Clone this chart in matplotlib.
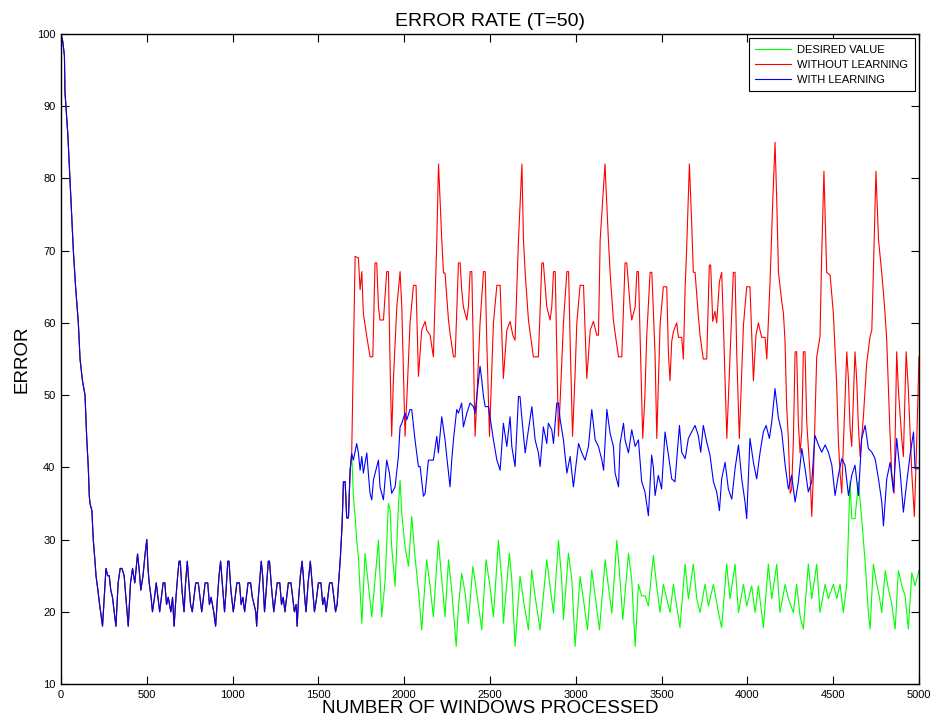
import matplotlib
matplotlib.use("Agg")
import matplotlib.pyplot as plt

plt.rcParams['font.family'] = ['Liberation Sans', 'DejaVu Sans']

# part where all three curves coincide (0 .. ~1690)
shared_x = [0, 10, 20, 23, 40, 52, 62, 72, 85, 101, 111, 125, 140, 150, 159, 165, 169, 180, 188, 198,
            204, 215, 225, 242, 252, 262, 272, 281, 290, 300, 320, 333, 345, 355, 368, 378, 392, 405,
            417, 430, 446, 455, 465, 478, 490, 500, 507, 514, 525, 533, 545, 555, 565, 575, 585, 595,
            605, 615, 625, 640, 650, 659, 670, 680, 688, 695, 705, 717, 726, 736, 745, 755, 765, 775,
            785, 800, 810, 820, 830, 840, 855, 865, 875, 890, 901, 912, 921, 930, 940, 953, 962, 972,
            979, 990, 1004, 1015, 1025, 1040, 1050, 1060, 1070, 1080, 1090, 1105, 1115, 1125, 1135,
            1140, 1150, 1160, 1167, 1175, 1186, 1196, 1208, 1215, 1228, 1240, 1250, 1260, 1275, 1285,
            1295, 1305, 1315, 1325, 1340, 1350, 1360, 1370, 1376, 1385, 1395, 1405, 1412, 1420, 1428,
            1440, 1453, 1460, 1470, 1477, 1490, 1500, 1515, 1525, 1535, 1545, 1555, 1565, 1580, 1590,
            1600, 1609, 1618, 1628, 1638, 1646, 1656, 1665, 1675, 1685, 1694]
shared_y = [100, 99, 97, 92, 86, 80, 75, 70, 65, 60, 55, 52, 50, 44, 40, 36, 35, 34, 30, 27,
            25, 23, 21, 18, 22, 26, 25, 25, 23, 22, 18, 24, 26, 26, 25, 22, 18, 24,
            26, 24, 28, 26, 23, 25, 28, 30, 26, 24, 22, 20, 22, 24, 22, 20, 22, 24,
            24, 21, 22, 20, 22, 18, 22, 25, 27, 27, 23, 20, 24, 27, 24, 21, 20, 22,
            24, 24, 22, 20, 22, 24, 24, 21, 22, 20, 18, 22, 25, 27, 24, 20, 23, 27,
            27, 23, 20, 22, 24, 24, 21, 22, 20, 22, 24, 24, 22, 21, 20,
            18, 22, 25, 27, 25, 20, 23, 27, 27, 23, 20, 22, 24, 24, 21,
            22, 20, 22, 24, 24, 22, 20, 21, 18, 22, 25, 27, 25, 22, 20,
            24, 27, 25, 22, 20, 22, 24, 24, 21, 22, 20, 22, 24, 24, 22,
            20, 21, 24, 27.5, 32, 38, 38, 33, 33, 39.6, 41.9]

desired_x = [1704, 1714, 1723, 1733, 1753, 1772, 1782, 1811, 1830, 1850, 1869, 1889, 1908, 1918, 1927,
             1947, 1966, 1976, 1986, 2005, 2025, 2044, 2063, 2083, 2102, 2131, 2151, 2170, 2199, 2219,
             2238, 2258, 2277, 2303, 2316, 2335, 2355, 2374, 2400, 2423, 2452, 2477, 2500, 2520, 2549,
             2569, 2578, 2613, 2627, 2646, 2675, 2695, 2724, 2743, 2763, 2792, 2831, 2850, 2870, 2899,
             2918, 2928, 2957, 2977, 2996, 3025, 3045, 3068, 3093, 3113, 3138, 3171, 3190, 3210, 3239,
             3258, 3274, 3307, 3326, 3346, 3365, 3384, 3404, 3423, 3452, 3471, 3491, 3510, 3530, 3549,
             3569, 3588, 3607, 3637, 3656, 3685, 3705, 3724, 3753, 3773, 3802, 3831, 3850, 3879, 3899,
             3928, 3948, 3977, 3996, 4025, 4045, 4064, 4093, 4122, 4142, 4171, 4190, 4220, 4239, 4268,
             4287, 4307, 4326, 4355, 4375, 4404, 4423, 4453, 4472, 4501, 4521, 4540, 4559, 4579, 4598,
             4608, 4627, 4647, 4666, 4686, 4705, 4715, 4734, 4754, 4768, 4783, 4803, 4822, 4841, 4861,
             4880, 4900, 4919, 4938, 4958, 4977, 5000]
desired_y = [36, 33.2, 29.9, 27.6, 18.4, 28.1, 25.8, 19.3, 24.4, 29.9, 19.3, 24.4, 35, 34.1, 29,
             23.5, 34.6, 38.2, 33.6, 29, 26.3, 33.2, 27.6, 23, 17.5, 27.2, 23.5, 19.3, 29.9, 24.4,
             19.3, 27.2, 23, 15.2, 20.7, 25.3, 22.6, 18.4, 26.3, 22.6, 17.5, 27.2, 23.5, 19.3, 29.9,
             24.4, 18.4, 28.1, 24.4, 15.2, 24.9, 21.6, 17.5, 25.8, 22.1, 17.5, 27.2, 23.5, 19.8, 29.9,
             24.4, 18.9, 28.1, 24.4, 15.2, 24.9, 21.6, 17.5, 25.8, 22.1, 17.5, 27.2, 23.5, 19.8, 29.9,
             24.4, 18.9, 28.1, 24.4, 15.2, 23.8, 22.2, 22.2, 20.8, 27.8, 23.6, 19.9, 23.8, 21.8, 19.9,
             23.8, 20.8, 17.8, 26.6, 21.8, 26.6, 21.8, 19.9, 23.8, 20.8, 23.8, 19.9, 17.8, 26.6, 21.8,
             26.6, 19.9, 23.8, 20.8, 23.6, 19.9, 23.6, 17.8, 26.6, 21.8, 26.6, 19.9, 23.8, 21.8, 19.9,
             23.8, 19.4, 17.6, 26.6, 21.8, 26.6, 19.9, 23.8, 21.8, 23.8, 21.8, 23.8, 19.9, 23.8, 38,
             32.9, 32.9, 38, 32.9, 26.9, 19.9, 17.6, 26.6, 23.8, 22.2, 19.9, 25.7, 23.1, 21.1, 17.6,
             25.7, 23.6, 22.2, 17.6, 25.4, 23.6, 25.7]

without_x = [1714, 1733, 1743, 1753, 1762, 1782, 1801, 1817, 1830, 1840, 1850, 1859, 1879, 1898, 1908,
             1918, 1927, 1937, 1957, 1976, 1986, 2005, 2015, 2034, 2054, 2069, 2083, 2102, 2122, 2131,
             2151, 2170, 2190, 2200, 2219, 2229, 2238, 2258, 2267, 2287, 2297, 2316, 2326, 2335, 2345,
             2365, 2374, 2384, 2394, 2413, 2423, 2442, 2462, 2472, 2481, 2497, 2510, 2520, 2540, 2559,
             2578, 2598, 2617, 2633, 2646, 2666, 2686, 2695, 2705, 2724, 2734, 2753, 2782, 2802, 2811,
             2831, 2850, 2860, 2870, 2880, 2899, 2909, 2928, 2948, 2958, 2967, 2981, 2996, 3006, 3025,
             3045, 3064, 3084, 3103, 3122, 3132, 3142, 3170, 3190, 3200, 3219, 3229, 3249, 3268, 3287,
             3297, 3317, 3326, 3346, 3356, 3365, 3390, 3403, 3413, 3433, 3443, 3462, 3472, 3491, 3510,
             3530, 3540, 3549, 3559, 3569, 3588, 3598, 3617, 3627, 3637, 3646, 3662, 3675, 3685, 3695,
             3714, 3724, 3743, 3763, 3778, 3786, 3798, 3811, 3821, 3837, 3850, 3860, 3880, 3899, 3918,
             3928, 3938, 3953, 3977, 3996, 4015, 4035, 4050, 4064, 4083, 4103, 4113, 4132, 4148, 4161,
             4171, 4181, 4200, 4210, 4219, 4229, 4239, 4249, 4258, 4268, 4278, 4287, 4297, 4307, 4317,
             4326, 4336, 4346, 4365, 4375, 4385, 4404, 4423, 4433, 4446, 4462, 4482, 4491, 4501, 4511,
             4520, 4530, 4540, 4550, 4559, 4579, 4589, 4598, 4608, 4627, 4637, 4647, 4657, 4676, 4695,
             4715, 4725, 4734, 4749, 4764, 4783, 4793, 4802, 4812, 4822, 4831, 4841, 4855, 4870, 4880,
             4900, 4909, 4925, 4938, 4958, 4973, 4987, 5000]
without_y = [69.2, 69, 64.6, 67.1, 61.3, 58.1, 55.3, 55.3, 68.3, 68.3, 62.2, 60.4, 60.4, 67.1, 67.1,
             53.9, 44.3, 52.1, 62.2, 67.1, 62.2, 44.3, 49.3, 60, 65.2, 65.2, 52.6, 59, 60.2, 59,
             58.3, 55.3, 71.5, 82, 71.5, 66.9, 66.9, 60.4, 58.6, 55.3, 55.3, 68.3, 68.3, 64.6, 62.2,
             60.4, 62.2, 67.1, 67.1, 44.3, 49.3, 60, 67.1, 67.1, 57.6, 44.3, 53, 60, 65.2, 65.2,
             52.3, 59, 60.2, 58.3, 57.6, 71.5, 82, 71.5, 66.9, 60.4, 58.6, 55.3, 55.3, 68.3, 68.3,
             62.2, 60.4, 62.2, 67.1, 67.1, 44.3, 49.3, 60, 67.1, 67.1, 57.6, 44.3, 53, 60, 65.2,
             65.2, 52.3, 59, 60.2, 58.3, 58.3, 71.5, 82, 71.5, 66.9, 60.4, 58.6, 55.3, 55.3, 68.3,
             68.3, 62.2, 60.4, 62.2, 67.1, 67.1, 44, 50, 58, 67, 67, 55.6, 44, 59.7, 65,
             65, 55.6, 52, 57.4, 58.8, 60, 58, 58, 55, 64.8, 70.3, 82, 74, 67, 67,
             61, 58.3, 55, 55, 68, 68, 60.2, 61.6, 60, 65.7, 67, 60, 44, 55.6, 67,
             67, 55.6, 44, 59.7, 65, 65, 52, 58.3, 60, 58, 58, 55, 65.7, 77, 85,
             77, 67, 63, 61.3, 57.6, 48.4, 43.8, 36.4, 37, 43.8, 56, 56, 46.1, 42, 45,
             56, 56, 46.1, 39.2, 33.2, 39.2, 55.3, 58.1, 69.4, 81, 67, 66.6, 64.1, 61.3, 56.3,
             51.6, 43.8, 39.2, 36.4, 42.9, 56, 52.1, 45.6, 42.9, 56, 52.1, 45.6, 41.5, 47, 54.4,
             58.1, 59, 66.9, 81, 71.5, 66.9, 64.1, 61.3, 57.6, 50.7, 44.7, 39.2, 36.4, 56, 50.7,
             43.8, 41.5, 56, 50.7, 39.2, 33.2, 43.8, 55.3]

with_x = [1704, 1723, 1733, 1743, 1753, 1762, 1782, 1791, 1801, 1811, 1821, 1840, 1850, 1859, 1879,
          1898, 1914, 1927, 1947, 1966, 1976, 1986, 2005, 2015, 2034, 2044, 2063, 2083, 2093, 2112,
          2122, 2141, 2170, 2190, 2199, 2219, 2238, 2248, 2267, 2277, 2287, 2306, 2316, 2335, 2345,
          2365, 2384, 2404, 2413, 2423, 2442, 2452, 2462, 2472, 2491, 2500, 2520, 2540, 2559, 2578,
          2598, 2617, 2627, 2646, 2666, 2675, 2685, 2705, 2724, 2744, 2763, 2782, 2792, 2811, 2831,
          2840, 2860, 2870, 2889, 2899, 2909, 2928, 2948, 2967, 2986, 3016, 3035, 3054, 3074, 3093,
          3113, 3132, 3152, 3162, 3181, 3200, 3219, 3229, 3249, 3258, 3278, 3287, 3307, 3326, 3346,
          3365, 3384, 3403, 3423, 3442, 3452, 3462, 3481, 3500, 3520, 3540, 3559, 3578, 3604, 3617,
          3637, 3656, 3675, 3695, 3714, 3728, 3743, 3763, 3782, 3802, 3821, 3837, 3850, 3870, 3889,
          3909, 3928, 3948, 3967, 3986, 3996, 4015, 4035, 4054, 4074, 4093, 4109, 4128, 4142, 4161,
          4181, 4200, 4220, 4239, 4258, 4278, 4297, 4317, 4336, 4355, 4375, 4394, 4414, 4433, 4453,
          4472, 4492, 4511, 4530, 4550, 4569, 4589, 4608, 4627, 4647, 4666, 4686, 4705, 4725, 4744,
          4764, 4783, 4793, 4812, 4832, 4851, 4870, 4890, 4909, 4929, 4948, 4968, 4977, 5000]
with_y = [41, 43.3, 42, 39.6, 41.5, 39.2, 42, 39.2, 36.4, 35.5, 38.3, 40.1, 41, 37.3, 35.5,
          41, 39.2, 36.4, 37.3, 41.5, 45.6, 46.1, 47.5, 46.6, 48, 48, 43.8, 40.1, 40.1, 36,
          36.4, 41, 41, 44.3, 42, 47, 43.8, 41.5, 37.3, 41, 43.8, 48, 47.5, 48.9, 45.6,
          47.5, 48.9, 48.4, 47.5, 49.8, 54, 52.1, 49.8, 48.4, 48.4, 47, 43.8, 41, 39.6, 46.1,
          42.9, 47, 42.9, 40.1, 49.8, 49.8, 47, 42, 45.2, 48.4, 43.8, 42, 40.1, 45.6, 43.3,
          46.1, 45.2, 43.3, 48.9, 48.9, 46.6, 43.8, 39.2, 41.5, 37.3, 43.3, 42, 41, 42.9, 48,
          43.8, 42.9, 41, 39.6, 48, 44.7, 42.9, 39.2, 37.3, 43.3, 46.1, 43.8, 42, 45.2, 42.9,
          43.8, 38, 36.6, 33.3, 41.7, 40, 36.1, 38.9, 37, 44.9, 41.7, 38.4, 38, 45.8, 42.1,
          41.2, 44, 44.9, 45.8, 44.4, 42.1, 45.8, 43.5, 41.7, 38, 36.6, 34, 38.4, 40.7, 37,
          35.6, 39.8, 43.1, 38.4, 35.2, 32.9, 44, 40.7, 38.4, 42.1, 44.9, 45.8, 44, 46.3, 50.9,
          46.8, 44.9, 40.3, 37, 38.9, 35.2, 38, 42.6, 39.8, 36.6, 38, 44.4, 43.1, 42.1, 43.1,
          42.1, 40.3, 36.1, 38.9, 41.2, 40.3, 36.1, 38.9, 40.3, 36.1, 44, 45.8, 42.6, 42.1, 41.2,
          38.4, 35.2, 31.9, 38.4, 40.7, 36.6, 44, 39.4, 33.8, 38, 41.7, 44.9, 39.8, 39.8]

x_ticks = list(range(0, 5001, 500))
y_ticks = list(range(10, 101, 10))

fig = plt.figure(figsize=(9.35, 7.26), dpi=100)
ax = fig.add_axes([61 / 935, 42 / 726, 858 / 935, 650 / 726])

ax.plot(shared_x + desired_x, shared_y + desired_y, color="#00ff00", lw=0.8, label="DESIRED VALUE")
ax.plot(shared_x + without_x, shared_y + without_y, color="#ff0000", lw=0.8, label="WITHOUT LEARNING")
ax.plot(shared_x + with_x, shared_y + with_y, color="#0000ff", lw=0.8, label="WITH LEARNING")

ax.set_xlim(0, 5000)
ax.set_ylim(10, 100)
ax.set_xticks(x_ticks)
ax.set_yticks(y_ticks)
ax.tick_params(direction="in", length=5.5, width=0.8, labelsize=8, top=True, right=True, pad=4)
for s in ax.spines.values():
    s.set_linewidth(1.0)

ax.set_title("ERROR RATE (T=50)", fontsize=14, pad=6)
ax.set_xlabel("NUMBER OF WINDOWS PROCESSED", fontsize=13.6, labelpad=0)
ax.set_ylabel("ERROR", fontsize=13.5, labelpad=5)

leg = ax.legend(loc="upper right", fontsize=8, handlelength=3.2, fancybox=False, framealpha=1,
                edgecolor="black", borderaxespad=0.35, borderpad=0.6, labelspacing=0.45,
                handletextpad=0.6)
leg.get_frame().set_linewidth(0.8)

fig.savefig("out.png", dpi=100)
